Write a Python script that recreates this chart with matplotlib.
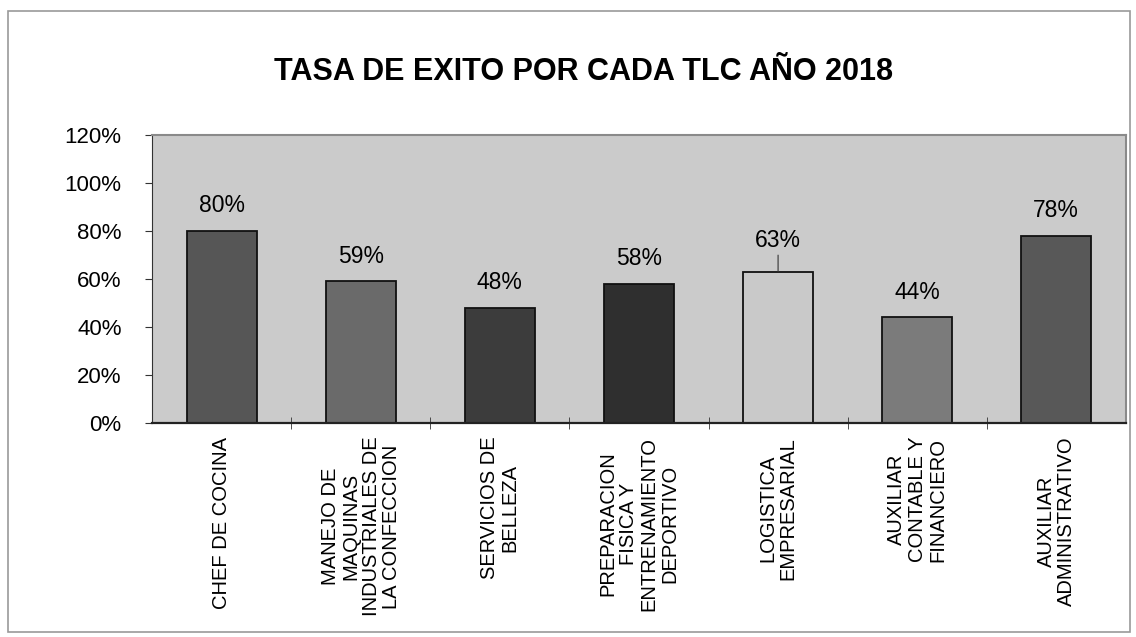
import matplotlib.pyplot as plt
from matplotlib.patches import Rectangle
from matplotlib.ticker import PercentFormatter, FixedLocator

plt.rcParams['font.family'] = ['Liberation Sans', 'DejaVu Sans']

categories = [
    "CHEF DE COCINA",
    "MANEJO DE\nMAQUINAS\nINDUSTRIALES DE\nLA CONFECCION",
    "SERVICIOS DE\nBELLEZA",
    "PREPARACION\nFISICA Y\nENTRENAMIENTO\nDEPORTIVO",
    "LOGISTICA\nEMPRESARIAL",
    "AUXILIAR\nCONTABLE Y\nFINANCIERO",
    "AUXILIAR\nADMINISTRATIVO",
]
tasa = [80, 59, 48, 58, 63, 44, 78]
colores = ["#565656", "#6a6a6a", "#3c3c3c", "#2f2f2f", "#c9c9c9", "#7b7b7b", "#585858"]

fig = plt.figure(figsize=(11.36, 6.37), dpi=100)
fig.patch.set_facecolor("white")

# marco exterior del grafico
fig.patches.append(Rectangle((0.007, 0.008), 0.988, 0.974, transform=fig.transFigure,
                             fill=False, edgecolor="#9a9a9a", linewidth=1.2))

ax = fig.add_axes([0.134, 0.336, 0.857, 0.452])
ax.set_facecolor("#cbcbcb")

x = range(len(categories))
bars = ax.bar(x, tasa, width=0.5, color=colores, edgecolor="#111111", linewidth=1.3)

for i, (b, v) in enumerate(zip(bars, tasa)):
    if i == 4:
        ax.annotate(f"{v}%", xy=(b.get_x() + b.get_width() / 2, v), xytext=(0, 14),
                    textcoords="offset points", ha="center", va="bottom", fontsize=16.5,
                    arrowprops=dict(arrowstyle="-", color="#333333", lw=0.8, shrinkA=0, shrinkB=0))
    else:
        ax.annotate(f"{v}%", xy=(b.get_x() + b.get_width() / 2, v), xytext=(0, 10),
                    textcoords="offset points", ha="center", va="bottom", fontsize=16.5)

ax.set_xlim(-0.5, len(categories) - 0.5)
ax.set_ylim(0, 120)
ax.set_yticks(range(0, 121, 20))
ax.yaxis.set_major_formatter(PercentFormatter(decimals=0))
ax.tick_params(axis="y", labelsize=16, length=5, pad=17, direction="out", color="#333333")

ax.set_xticks(list(x))
ax.set_xticklabels(categories, rotation=90, fontsize=14.5, multialignment="center",
                   va="top", linespacing=1.1)
ax.tick_params(axis="x", which="major", length=0, pad=10)
ax.xaxis.set_minor_locator(FixedLocator([i + 0.5 for i in range(len(categories) - 1)]))
ax.tick_params(axis="x", which="minor", length=8, direction="inout", color="#333333")

for s in ["top", "right"]:
    ax.spines[s].set_color("#8a8a8a")
    ax.spines[s].set_linewidth(1.5)
ax.spines["left"].set_color("#333333")
ax.spines["bottom"].set_color("#222222")
ax.spines["bottom"].set_linewidth(1.6)

fig.text(0.514, 0.887, "TASA DE EXITO POR CADA TLC AÑO 2018", ha="center", va="center",
         fontsize=22, fontweight="bold")

fig.savefig("out.png", dpi=100)
